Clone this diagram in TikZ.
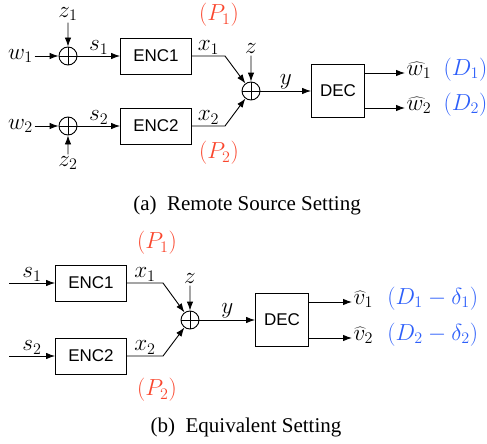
\documentclass[tikz,border=0pt]{standalone}
\usepackage{fontspec}
\newfontfamily\encfont{Liberation Sans}
\newfontfamily\capfont{Liberation Serif}
\usetikzlibrary{arrows.meta, positioning}
\definecolor{pwred}{RGB}{250, 70, 45}
\definecolor{distblue}{RGB}{45, 95, 250}

\begin{document}
\begin{tikzpicture}[x=1pt, y=-1pt, line width=0.9pt,
        node distance=2pt,
        every node/.style={font=\fontsize{20.74}{25}\selectfont},
        encbox/.style={draw, minimum width=71pt, minimum height=36pt, inner sep=0pt, font=\encfont\fontsize{17}{20}\selectfont},
        decbox/.style={draw, minimum width=53pt, minimum height=53pt, inner sep=0pt, font=\encfont\fontsize{17}{20}\selectfont},
        sumnode/.style={draw, circle, minimum size=18pt, inner sep=0pt,
            path picture={\draw[line width=0.8pt] (path picture bounding box.north) -- (path picture bounding box.south)
                (path picture bounding box.west) -- (path picture bounding box.east);}},
        arr/.style={-{Latex[length=9pt, width=6.5pt]}},
        lbl/.style={inner sep=1pt, scale=1.12},
        pw/.style={text=pwred, scale=1.12},
        dist/.style={text=distblue, inner sep=1pt, scale=1.12},
        captext/.style={font=\capfont\fontsize{21}{25}\selectfont}
      ]
        \useasboundingbox (0,0) rectangle (487,444);
        % (a) Remote Source Setting
        \node[sumnode] (sa1) at (68,56) {};
        \node[sumnode] (sa2) at (68,126) {};
        \node[encbox] (ea1) at (156,56) {ENC1};
        \node[encbox] (ea2) at (156,126) {ENC2};
        \node[sumnode] (sa) at (251,91) {};
        \node[decbox] (da) at (338,91) {DEC};
        \node[lbl, left=24pt of sa1] (w1) {$w_1$};
        \node[lbl, left=24pt of sa2] (w2) {$w_2$};
        \node[lbl, above=24pt of sa1] (z1) {$z_1$};
        \node[lbl, below=19pt of sa2] (z2) {$z_2$};
        \node[lbl, above=26pt of sa] (za) {$z$};
        \coordinate (ka1) at (225,56);
        \coordinate (ka2) at (225,126);
        \coordinate (oa1) at (405,73);
        \coordinate (oa2) at (405,108);
        \draw[arr] (w1) -- (sa1);
        \draw[arr] (w2) -- (sa2);
        \draw[arr] (z1) -- (sa1);
        \draw[arr] (z2) -- (sa2);
        \draw[arr] (sa1) -- node[lbl, above] {$s_1$} (ea1);
        \draw[arr] (sa2) -- node[lbl, above] {$s_2$} (ea2);
        \draw[arr] (ea1.east) -- node[lbl, above] {$x_1$} (ka1) -- (sa);
        \draw[arr] (ea2.east) -- node[lbl, above] {$x_2$} (ka2) -- (sa);
        \draw[arr] (za) -- (sa);
        \draw[arr] (sa) -- node[lbl, above] {$y$} (da);
        \draw[arr] (da.east |- oa1) -- (oa1);
        \draw[arr] (da.east |- oa2) -- (oa2);
        \node[lbl, anchor=mid west] (wh1) at (oa1) {$\widehat{w}_1$};
        \node[lbl, anchor=mid west] (wh2) at (oa2) {$\widehat{w}_2$};
        \node[dist, right=9pt of wh1.mid east, anchor=mid west] (da1) {$(D_1)$};
        \node[dist, right=9pt of wh2.mid east, anchor=mid west] (da2) {$(D_2)$};
        \node[pw] (pa1) at (219,15) {$(P_1)$};
        \node[pw] (pa2) at (219,153) {$(P_2)$};
        \node[captext] (capa) at (247,205) {(a)\enspace Remote Source Setting};
        % (b) Equivalent Setting
        \node[encbox] (eb1) at (91,283) {ENC1};
        \node[encbox] (eb2) at (91,356) {ENC2};
        \node[sumnode] (sb) at (190,320) {};
        \node[decbox] (db) at (282,320) {DEC};
        \node[lbl, above=25pt of sb] (zb) {$z$};
        \coordinate (in1) at (9,283);
        \coordinate (in2) at (9,356);
        \coordinate (kb1) at (163,283);
        \coordinate (kb2) at (163,356);
        \coordinate (ob1) at (352,302);
        \coordinate (ob2) at (352,338);
        \draw[arr] (in1) -- node[lbl, above] {$s_1$} (eb1);
        \draw[arr] (in2) -- node[lbl, above] {$s_2$} (eb2);
        \draw[arr] (eb1.east) -- node[lbl, above] {$x_1$} (kb1) -- (sb);
        \draw[arr] (eb2.east) -- node[lbl, above] {$x_2$} (kb2) -- (sb);
        \draw[arr] (zb) -- (sb);
        \draw[arr] (sb) -- node[lbl, above] {$y$} (db);
        \draw[arr] (db.east |- ob1) -- (ob1);
        \draw[arr] (db.east |- ob2) -- (ob2);
        \node[lbl, anchor=mid west] (vh1) at (ob1) {$\widehat{v}_1$};
        \node[lbl, anchor=mid west] (vh2) at (ob2) {$\widehat{v}_2$};
        \node[dist, right=11pt of vh1.mid east, anchor=mid west] (db1) {$(D_1-\delta_1)$};
        \node[dist, right=11pt of vh2.mid east, anchor=mid west] (db2) {$(D_2-\delta_2)$};
        \node[pw] (pb1) at (157,243) {$(P_1)$};
        \node[pw] (pb2) at (157,390) {$(P_2)$};
        \node[captext] (capb) at (246,427) {(b)\enspace Equivalent Setting};
      \end{tikzpicture}
\end{document}
